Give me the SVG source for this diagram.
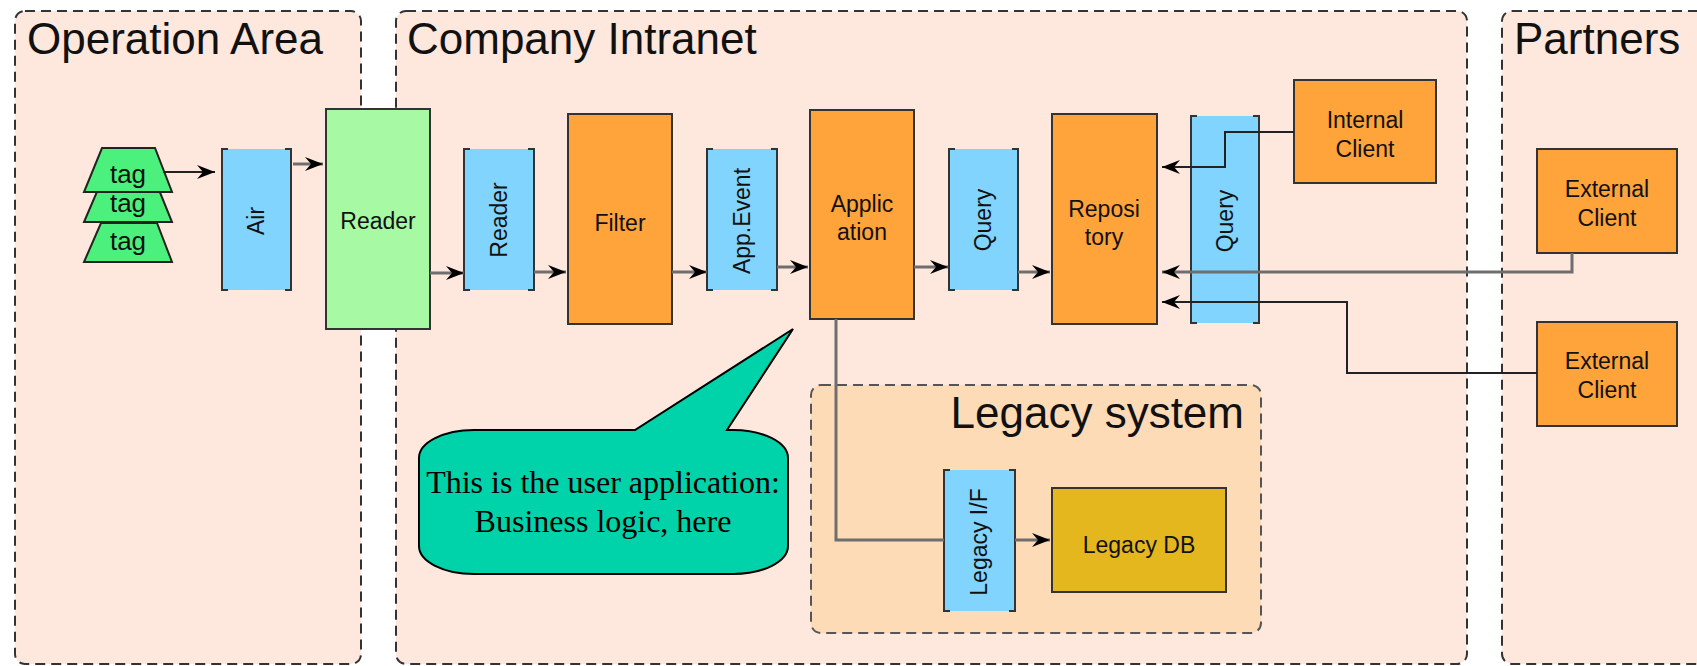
<svg xmlns="http://www.w3.org/2000/svg" width="1697" height="666" viewBox="0 0 1697 666">
  <style>
    .panel { fill: #fee7dc; stroke: #333; stroke-width: 2; stroke-dasharray: 10 6; }
    .legacy-panel { fill: #fddbb6; stroke: #555; stroke-width: 2; stroke-dasharray: 10 6; }
    .title { font-family: "Liberation Sans", Arial, sans-serif; font-size: 44px; fill: #111; }
    .box { stroke: #333; stroke-width: 2; }
    .orange { fill: #ffa33b; }
    .green { fill: #a8f9a4; }
    .gold { fill: #e5b71e; }
    .queue { fill: #80d4fe; }
    .bracket { fill: none; stroke: #333; stroke-width: 2; }
    .tag { fill: #4cf07c; stroke: #222; stroke-width: 2; }
    .lbl { font-family: "Liberation Sans", Arial, sans-serif; font-size: 23px; fill: #111; text-anchor: middle; }
    .tagtxt { font-family: "Liberation Sans", Arial, sans-serif; font-size: 26px; fill: #111; text-anchor: middle; }
    .flow { fill: none; stroke: #6e6e6e; stroke-width: 3; }
    .thin { fill: none; stroke: #222; stroke-width: 2; }
    .callout { fill: #00d2a9; stroke: #000; stroke-width: 2; }
    .note { font-family: "Liberation Serif", "Times New Roman", serif; font-size: 32px; fill: #000; text-anchor: middle; }
  </style>
  <defs>
    <marker id="arrow" markerUnits="userSpaceOnUse" viewBox="0 0 18 14" markerWidth="18" markerHeight="14" refX="18" refY="7" orient="auto">
      <path d="M0,0 L18,7 L0,14 L6,7 Z" fill="#000"/>
    </marker>
  </defs>

  <!-- zones -->
  <g id="zone-operation">
    <rect class="panel" x="15" y="11" width="346" height="653" rx="10"/>
    <text class="title" x="27" y="54">Operation Area</text>
  </g>
  <g id="zone-intranet">
    <rect class="panel" x="396" y="11" width="1071" height="653" rx="10"/>
    <text class="title" x="407" y="54">Company Intranet</text>
  </g>
  <g id="zone-partners">
    <rect class="panel" x="1502" y="11" width="260" height="653" rx="10"/>
    <text class="title" x="1514" y="54">Partners</text>
  </g>
  <g id="zone-legacy">
    <rect class="legacy-panel" x="811" y="385" width="450" height="248" rx="10"/>
    <text class="title" x="1244" y="428" text-anchor="end">Legacy system</text>
  </g>

  <!-- tags -->
  <g id="tags">
    <polygon class="tag" points="101,223 157,223 172,262 84,262"/>
    <text class="tagtxt" x="128" y="250">tag</text>
    <polygon class="tag" points="102,180 155,180 172,222 84,222"/>
    <text class="tagtxt" x="128" y="212">tag</text>
    <polygon class="tag" points="102,148 155,148 172,192 84,192"/>
    <text class="tagtxt" x="128" y="183">tag</text>
  </g>

  <!-- queues (bracketed boxes) -->
  <g id="air">
    <rect class="queue" x="222" y="149" width="69" height="141"/>
    <path class="bracket" d="M228,149 H222 V290 H228 M285,149 H291 V290 H285"/>
    <text class="lbl" x="256" y="221" dy="8" transform="rotate(-90 256 221)">Air</text>
  </g>
  <g id="reader-queue">
    <rect class="queue" x="464" y="149" width="70" height="141"/>
    <path class="bracket" d="M470,149 H464 V290 H470 M528,149 H534 V290 H528"/>
    <text class="lbl" x="499" y="220" dy="8" transform="rotate(-90 499 220)">Reader</text>
  </g>
  <g id="app-event">
    <rect class="queue" x="707" y="149" width="70" height="141"/>
    <path class="bracket" d="M713,149 H707 V290 H713 M771,149 H777 V290 H771"/>
    <text class="lbl" x="742" y="221" dy="8" transform="rotate(-90 742 221)">App.Event</text>
  </g>
  <g id="query-1">
    <rect class="queue" x="949" y="149" width="69" height="141"/>
    <path class="bracket" d="M955,149 H949 V290 H955 M1012,149 H1018 V290 H1012"/>
    <text class="lbl" x="983" y="220" dy="8" transform="rotate(-90 983 220)">Query</text>
  </g>
  <g id="query-2">
    <rect class="queue" x="1191" y="116" width="68" height="207"/>
    <path class="bracket" d="M1197,116 H1191 V323 H1197 M1253,116 H1259 V323 H1253"/>
    <text class="lbl" x="1225" y="221" dy="8" transform="rotate(-90 1225 221)">Query</text>
  </g>
  <g id="legacy-if">
    <rect class="queue" x="944" y="470" width="71" height="141"/>
    <path class="bracket" d="M950,470 H944 V611 H950 M1009,470 H1015 V611 H1009"/>
    <text class="lbl" x="979" y="542" dy="8" transform="rotate(-90 979 542)">Legacy I/F</text>
  </g>

  <!-- processing nodes -->
  <g id="reader">
    <rect class="box green" x="326" y="109" width="104" height="220"/>
    <text class="lbl" x="378" y="229">Reader</text>
  </g>
  <g id="filter">
    <rect class="box orange" x="568" y="114" width="104" height="210"/>
    <text class="lbl" x="620" y="231">Filter</text>
  </g>
  <g id="application">
    <rect class="box orange" x="810" y="110" width="104" height="209"/>
    <text class="lbl" x="862" y="212">Applic</text>
    <text class="lbl" x="862" y="240">ation</text>
  </g>
  <g id="repository">
    <rect class="box orange" x="1052" y="114" width="105" height="210"/>
    <text class="lbl" x="1104" y="217">Reposi</text>
    <text class="lbl" x="1104" y="245">tory</text>
  </g>
  <g id="internal-client">
    <rect class="box orange" x="1294" y="80" width="142" height="103"/>
    <text class="lbl" x="1365" y="128">Internal</text>
    <text class="lbl" x="1365" y="157">Client</text>
  </g>
  <g id="external-client-1">
    <rect class="box orange" x="1537" y="149" width="140" height="104"/>
    <text class="lbl" x="1607" y="197">External</text>
    <text class="lbl" x="1607" y="226">Client</text>
  </g>
  <g id="external-client-2">
    <rect class="box orange" x="1537" y="322" width="140" height="104"/>
    <text class="lbl" x="1607" y="369">External</text>
    <text class="lbl" x="1607" y="398">Client</text>
  </g>
  <g id="legacy-db">
    <rect class="box gold" x="1052" y="488" width="174" height="104"/>
    <text class="lbl" x="1139" y="553">Legacy DB</text>
  </g>

  <!-- connectors -->
  <g id="connectors">
    <path class="thin" d="M163,172 H215" marker-end="url(#arrow)"/>
    <path class="flow" d="M293,164 H323" marker-end="url(#arrow)"/>
    <path class="flow" d="M430,273 H464" marker-end="url(#arrow)"/>
    <path class="flow" d="M534,272 H566" marker-end="url(#arrow)"/>
    <path class="flow" d="M672,272 H707" marker-end="url(#arrow)"/>
    <path class="flow" d="M777,267 H808" marker-end="url(#arrow)"/>
    <path class="flow" d="M914,267 H948" marker-end="url(#arrow)"/>
    <path class="flow" d="M1018,272 H1050" marker-end="url(#arrow)"/>
    <path class="thin" d="M1294,132 H1225 V167 H1162" marker-end="url(#arrow)"/>
    <path class="flow" d="M1572,253 V272 H1162" marker-end="url(#arrow)"/>
    <path class="thin" d="M1537,373 H1347 V302 H1162" marker-end="url(#arrow)"/>
    <path class="flow" d="M836,319 V540 H944"/>
    <path class="flow" d="M1015,540 H1050" marker-end="url(#arrow)"/>
  </g>

  <!-- annotation balloon -->
  <g id="note">
    <path class="callout" d="M474,430 H635 L793,329 L727,430 H733 A55 28 0 0 1 788,458 V546 A55 28 0 0 1 733,574 H474 A55 28 0 0 1 419,546 V458 A55 28 0 0 1 474,430 Z"/>
    <text class="note" x="603" y="493">This is the user application:</text>
    <text class="note" x="603" y="532">Business logic, here</text>
  </g>
</svg>
